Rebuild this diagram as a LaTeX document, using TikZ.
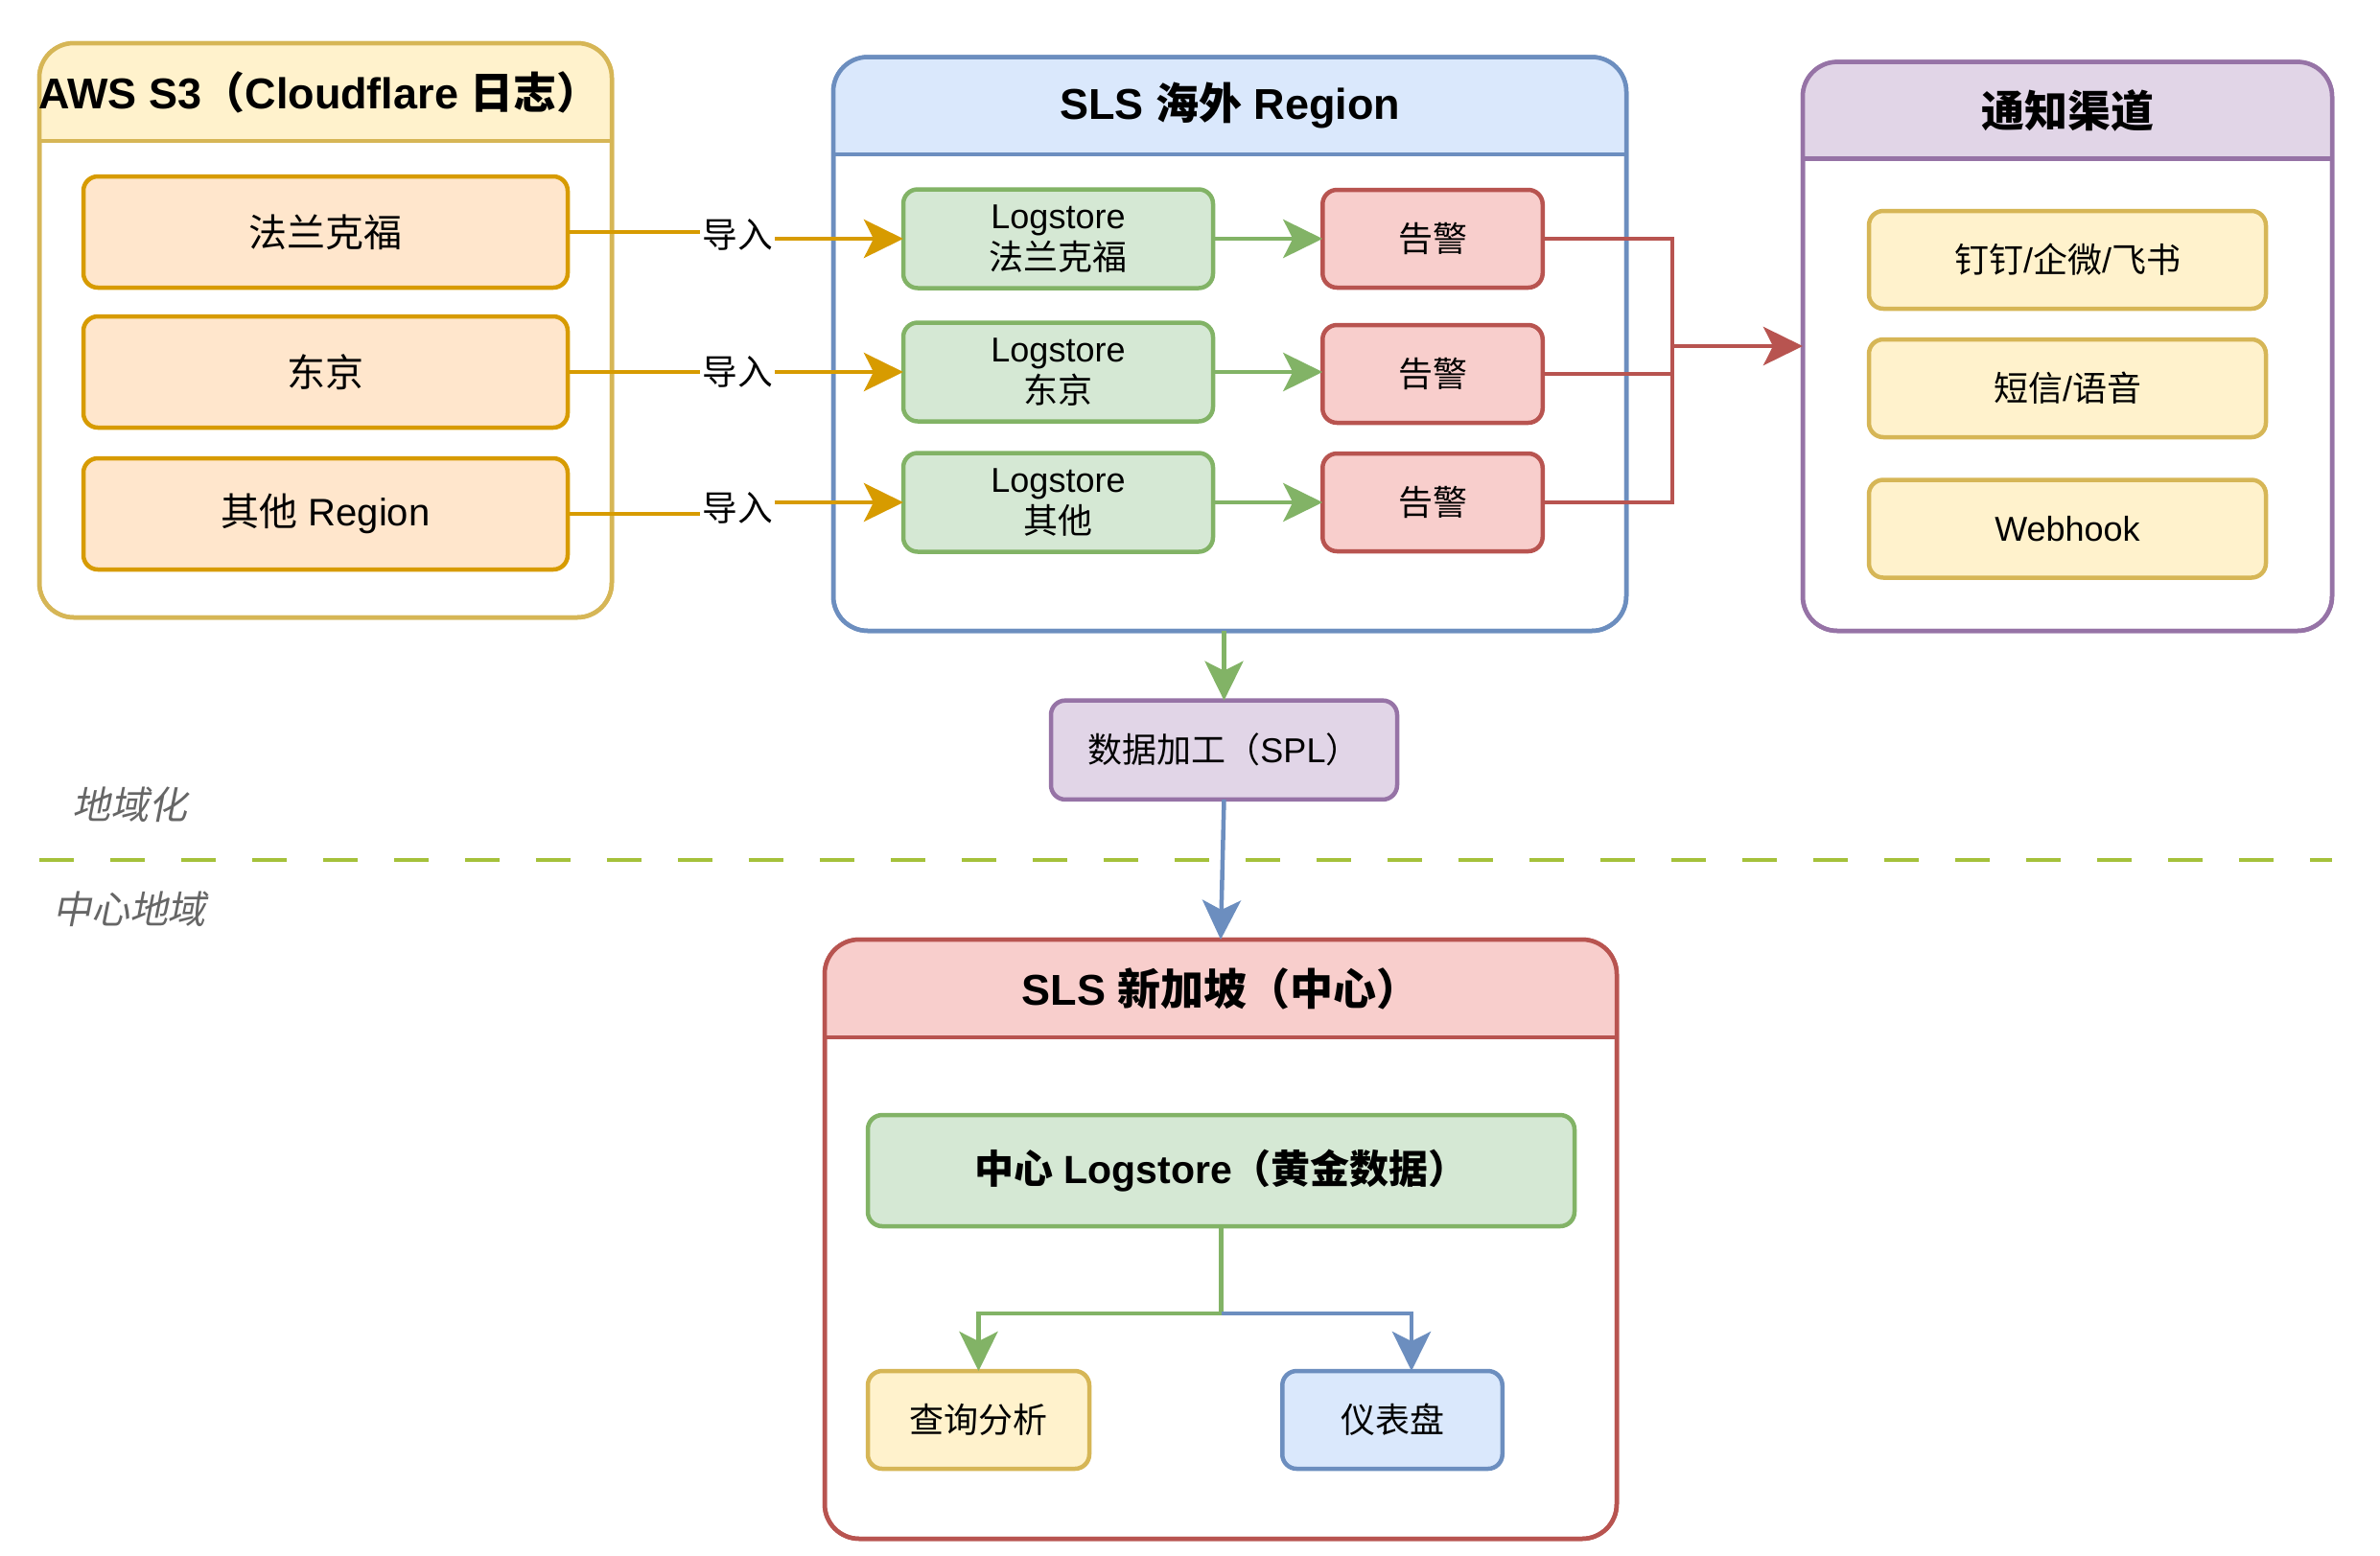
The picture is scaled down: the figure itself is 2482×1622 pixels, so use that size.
\documentclass[tikz,border=0pt]{standalone}
\usepackage{fontspec}
\setmainfont{Liberation Sans}
\newfontfamily\cjk{Noto Sans CJK SC}
\newfontfamily\cjkit{Noto Sans CJK SC}[FakeSlant=0.2]
\usetikzlibrary{arrows.meta,calc}
\newcommand\zh[1]{{\cjk #1}}
\definecolor{yF}{HTML}{FFF2CC}\definecolor{yS}{HTML}{D6B656}
\definecolor{oF}{HTML}{FFE6CC}\definecolor{oS}{HTML}{D79B00}
\definecolor{bF}{HTML}{DAE8FC}\definecolor{bS}{HTML}{6C8EBF}
\definecolor{gF}{HTML}{D5E8D4}\definecolor{gS}{HTML}{82B366}
\definecolor{rF}{HTML}{F8CECC}\definecolor{rS}{HTML}{B85450}
\definecolor{pF}{HTML}{E1D5E7}\definecolor{pS}{HTML}{9673A6}
\definecolor{dashC}{HTML}{A5C13A}
\definecolor{grayT}{HTML}{666666}
\newcommand\hdr[4]{% name, header height px, fill, stroke
  \begin{scope}
    \clip (#1.north west) rectangle ($(#1.north east)+(0,#2)$);
    \fill[#3, rounded corners=10.8pt] (#1.north west) rectangle (#1.south east);
  \end{scope}
  \draw[line width=1.35pt, #4] ($(#1.north west)+(0,#2)$) -- ($(#1.north east)+(0,#2)$);
  \draw[line width=1.35pt, #4, rounded corners=10.8pt] (#1.north west) rectangle (#1.south east);
}
\begin{document}
\begin{tikzpicture}[x=0.3pt,y=-0.3pt,
  lw/.style={line width=1.35pt},
  cont/.style={lw, rounded corners=10.8pt, draw, fill=white, outer sep=0pt, inner sep=0pt},
  box/.style={lw, rounded corners=4.5pt, draw, outer sep=0pt, inner sep=0pt, align=center,
    font=\fontsize{10.8}{12.9}\selectfont},
  bigbox/.style={box, font=\fontsize{12}{14}\selectfont},
  ttl/.style={font=\fontsize{13.5}{16}\selectfont\bfseries, inner sep=0pt},
  tipS/.style={-{Stealth[length=12.3pt,width=12pt,inset=3pt]}},
  conn/.style={lw},
  lbl/.style={fill=white, inner sep=0.6pt, font=\fontsize{11}{13}\selectfont},
  region/.style={text=grayT, inner sep=0pt, font=\fontsize{12}{14}\selectfont\cjkit},
  orangebox/.style={bigbox, fill=oF, draw=oS, minimum width=151.5pt, minimum height=34.8pt},
  logbox/.style={box, fill=gF, draw=gS, minimum width=96.9pt, minimum height=30.9pt},
  alertbox/.style={box, fill=rF, draw=rS, minimum width=68.85pt, minimum height=30.6pt},
  chanbox/.style={box, fill=yF, draw=yS, minimum width=124.2pt, minimum height=30.6pt}
]
\fill[white] (0,0) rectangle (2482,1622);
\useasboundingbox (0,0) rectangle (2482,1622);

% ---------- containers ----------
\node[cont, draw=yS, minimum width=179.1pt, minimum height=179.7pt] (aws) at (339.5,344.5) {};
\hdr{aws}{102}{yF}{yS}
\node[cont, draw=bS, minimum width=248.1pt, minimum height=179.55pt] (sea) at (1282.5,358.75) {};
\hdr{sea}{101.5}{bF}{bS}
\node[cont, draw=pS, minimum width=165.6pt, minimum height=178.02pt] (ch) at (2156,361.3) {};
\hdr{ch}{101}{pF}{pS}
\node[cont, draw=rS, minimum width=247.8pt, minimum height=187.5pt] (sg) at (1273,1292.5) {};
\hdr{sg}{102}{rF}{rS}

\node[ttl] (awsT) at (333,96) {AWS S3\zh{（}Cloudflare \zh{日志）}};
\node[ttl] (seaT) at (1282.5,110) {SLS \zh{海外} Region};
\node[ttl] (chT) at (2156,115) {\zh{通知渠道}};
\node[ttl] (sgT) at (1273,1031) {SLS \zh{新加坡（中心）}};

% ---------- left boxes ----------
\node[orangebox] (f1) at (339.5,242) {\zh{法兰克福}};
\node[orangebox] (f2) at (339.5,388) {\zh{东京}};
\node[orangebox] (f3) at (339.5,536) {\zh{其他} Region};

% ---------- logstores ----------
\node[logbox] (l1) at (1103.5,249) {Logstore\\\zh{法兰克福}};
\node[logbox] (l2) at (1103.5,388) {Logstore\\\zh{东京}};
\node[logbox] (l3) at (1103.5,524) {Logstore\\\zh{其他}};

% ---------- alerts ----------
\node[alertbox] (a1) at (1494,249) {\zh{告警}};
\node[alertbox] (a2) at (1494,390) {\zh{告警}};
\node[alertbox] (a3) at (1494,524) {\zh{告警}};

% ---------- channels ----------
\node[chanbox] (c1) at (2156,271) {\zh{钉钉}/\zh{企微}/\zh{飞书}};
\node[chanbox] (c2) at (2156,405) {\zh{短信}/\zh{语音}};
\node[chanbox] (c3) at (2156,551.5) {Webhook};

% ---------- SPL ----------
\node[box, fill=pF, draw=pS, minimum width=108.3pt, minimum height=31pt] (spl) at (1276.5,782.3) {\zh{数据加工（}SPL\zh{）}};

% ---------- center ----------
\node[box, fill=gF, draw=gS, minimum width=221.1pt, minimum height=34.8pt,
  font=\fontsize{12.3}{14}\selectfont\bfseries] (cl) at (1273.5,1221) {\zh{中心} Logstore\zh{（黄金数据）}};
\node[box, fill=yF, draw=yS, minimum width=69.3pt, minimum height=30.6pt] (qa) at (1020.5,1481) {\zh{查询分析}};
\node[box, fill=bF, draw=bS, minimum width=68.85pt, minimum height=30.6pt] (pan) at (1452,1481) {\zh{仪表盘}};

% ---------- region divider ----------
\coordinate (dl) at (41,897);
\coordinate (dr) at (2432,897);
\draw[dashC, line width=1.4pt, dash pattern=on 10.8pt off 11.4pt] (dl) -- (dr);
\node[region] (rg1) at (135,839) {地域化};
\node[region] (rg2) at (135,948) {中心地域};

% ---------- import edges ----------
\coordinate (j1) at (769,245);
\coordinate (j2) at (769,388);
\coordinate (j3) at (769,530);
\draw[conn, oS, tipS] (f1.east) -| (j1) |- (l1.west);
\draw[conn, oS, tipS] (f2.east) -- (l2.west);
\draw[conn, oS, tipS] (f3.east) -| (j3) |- (l3.west);
\node[lbl] (i1) at (j1) {\zh{导入}};
\node[lbl] (i2) at (j2) {\zh{导入}};
\node[lbl] (i3) at (j3) {\zh{导入}};

% ---------- logstore -> alert ----------
\draw[conn, gS, tipS] (l1.east) -- (a1.west |- l1.east);
\draw[conn, gS, tipS] (l2.east) -- (a2.west |- l2.east);
\draw[conn, gS, tipS] (l3.east) -- (a3.west |- l3.east);

% ---------- alert -> channels ----------
\coordinate (bus) at (1744,361);
\draw[conn, rS] (a1.east) -| (bus);
\draw[conn, rS] (a3.east) -| (bus);
\draw[conn, rS] (a2.east) -- (a2.east -| bus);
\draw[conn, rS, tipS] (bus) -- (bus -| ch.west);

% ---------- to SPL and center ----------
\draw[conn, gS, tipS] (spl.north |- sea.south) -- (spl.north);
\draw[conn, bS, tipS] (spl.south) -- (sg.north);

\coordinate (split) at (1273.5,1370);
\coordinate (pj) at (1472,1430);
\draw[conn, gS, tipS] (cl.south) -- (split) -| (qa.north);
\draw[conn, bS, tipS] (split) -| (pj);
\end{tikzpicture}
\end{document}
